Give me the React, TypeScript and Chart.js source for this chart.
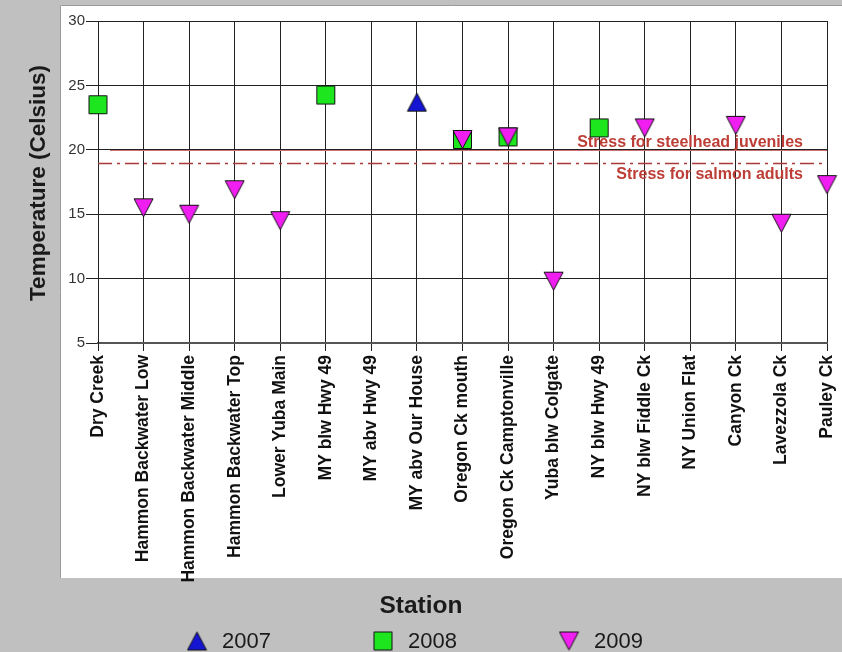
import React, { useEffect, useRef } from "react";
import { Chart, registerables } from "chart.js";

Chart.register(...registerables);

// ---- data ----
const stations = [
  "Dry Creek",
  "Hammon Backwater Low",
  "Hammon Backwater Middle",
  "Hammon Backwater Top",
  "Lower Yuba Main",
  "MY blw Hwy 49",
  "MY abv Hwy 49",
  "MY abv Our House",
  "Oregon Ck mouth",
  "Oregon Ck Camptonville",
  "Yuba blw Colgate",
  "NY blw Hwy 49",
  "NY blw Fiddle Ck",
  "NY Union Flat",
  "Canyon Ck",
  "Lavezzola Ck",
  "Pauley Ck",
];
const temps2007 = [null, null, null, null, null, null, null, 23.7, null, null, null, null, null, null, null, null, null];
const temps2008 = [23.5, null, null, null, null, 24.25, null, null, 20.8, 21.0, null, 21.7, null, null, null, null, null];
const temps2009 = [null, 15.5, 15.0, 16.9, 14.5, null, null, null, 20.8, 21.0, 9.8, null, 21.7, null, 21.9, 14.3, 17.3];
const seriesNames = ["2007", "2008", "2009"];
const yMin = 5;
const yMax = 30;
const yStep = 5;
const thresholdValues = [20, 19];
const thresholdLabels = ["Stress for steelhead juveniles", "Stress for salmon adults"];
const xTitle = "Station";
const yTitle = "Temperature (Celsius)";

const FONT = '"Liberation Sans", Arial, Helvetica, sans-serif';
const COLORS = ["#1414d2", "#1ee61e", "#f01ef0"];

function makeMarker(kind: string, fill: string) {
  const c = document.createElement("canvas");
  c.width = 21;
  c.height = 21;
  const ctx = c.getContext("2d")!;
  ctx.fillStyle = fill;
  ctx.strokeStyle = "#111";
  ctx.lineWidth = 1;
  ctx.beginPath();
  if (kind === "square") {
    ctx.rect(1.5, 1.5, 18, 18);
  } else if (kind === "up") {
    ctx.moveTo(10.5, 1.5);
    ctx.lineTo(20, 19.5);
    ctx.lineTo(1, 19.5);
    ctx.closePath();
  } else {
    ctx.moveTo(1, 1.5);
    ctx.lineTo(20, 1.5);
    ctx.lineTo(10.5, 19.5);
    ctx.closePath();
  }
  ctx.fill();
  ctx.stroke();
  return c;
}

export default function App() {
  const ref = useRef<HTMLCanvasElement | null>(null);

  useEffect(() => {
    if (!ref.current) return;
    const markers = [
      makeMarker("up", COLORS[0]),
      makeMarker("square", COLORS[1]),
      makeMarker("down", COLORS[2]),
    ];

    const decor = {
      id: "decor",
      beforeDraw(chart: any) {
        const ctx = chart.ctx;
        ctx.save();
        ctx.fillStyle = "#c0c0c0";
        ctx.fillRect(0, 0, chart.width, chart.height);
        ctx.fillStyle = "#ffffff";
        ctx.fillRect(60, 5, chart.width - 60, 573);
        ctx.strokeStyle = "#9a9a9a";
        ctx.lineWidth = 1;
        ctx.beginPath();
        ctx.moveTo(60.5, 578);
        ctx.lineTo(60.5, 5.5);
        ctx.lineTo(chart.width, 5.5);
        ctx.stroke();
        ctx.restore();
      },
      beforeDatasetsDraw(chart: any) {
        const ctx = chart.ctx;
        const area = chart.chartArea;
        const y = chart.scales.y;
        ctx.save();
        // steelhead line (solid)
        const y0 = Math.round(y.getPixelForValue(thresholdValues[0])) + 0.5;
        ctx.strokeStyle = "#cf7070";
        ctx.lineWidth = 1;
        ctx.beginPath();
        ctx.moveTo(area.left + 12, y0);
        ctx.lineTo(area.right, y0);
        ctx.stroke();
        // salmon line (dash-dot)
        const y1 = Math.round(y.getPixelForValue(thresholdValues[1])) + 0.5;
        ctx.strokeStyle = "#a83a3a";
        ctx.lineWidth = 1.3;
        ctx.setLineDash([14, 5, 3, 5]);
        ctx.beginPath();
        ctx.moveTo(area.left, y1);
        ctx.lineTo(area.right, y1);
        ctx.stroke();
        ctx.setLineDash([]);
        // labels
        ctx.fillStyle = "#bc3e36";
        ctx.font = `bold 16px ${FONT}`;
        ctx.textAlign = "right";
        ctx.textBaseline = "alphabetic";
        ctx.fillText(thresholdLabels[0], 803, y0 - 4);
        ctx.fillText(thresholdLabels[1], 803, y1 + 15.5);
        ctx.restore();
      },
      afterDraw(chart: any) {
        const ctx = chart.ctx;
        ctx.save();
        ctx.fillStyle = "#1a1a1a";
        // y title
        ctx.font = `bold 22.5px ${FONT}`;
        ctx.textAlign = "center";
        ctx.textBaseline = "alphabetic";
        ctx.translate(45, 183);
        ctx.rotate(-Math.PI / 2);
        ctx.fillText(yTitle, 0, 0);
        ctx.setTransform(1, 0, 0, 1, 0, 0);
        // x title
        ctx.font = `bold 24.5px ${FONT}`;
        ctx.fillText(xTitle, 421, 613);
        // legend
        const lx = [197, 383, 569];
        ctx.font = `22px ${FONT}`;
        ctx.textAlign = "left";
        for (let i = 0; i < seriesNames.length; i++) {
          const m = markers[i];
          ctx.drawImage(m, lx[i] - 10.5, 641 - 10.5);
          ctx.fillText(seriesNames[i], lx[i] + 25, 648);
        }
        ctx.restore();
      },
    };

    const common = {
      showLine: false,
      pointRadius: 10,
      pointHoverRadius: 10,
      clip: false as any,
    };

    const chart = new Chart(ref.current, {
      type: "line",
      data: {
        labels: stations,
        datasets: [
          { ...common, label: seriesNames[0], data: temps2007, pointStyle: markers[0] as any, order: 1 },
          { ...common, label: seriesNames[1], data: temps2008, pointStyle: markers[1] as any, order: 3 },
          { ...common, label: seriesNames[2], data: temps2009, pointStyle: markers[2] as any, order: 2 },
        ],
      },
      options: {
        responsive: false,
        animation: false,
        devicePixelRatio: 1,
        events: [],
        layout: { padding: { left: 0, top: 21, right: 15, bottom: 0 } },
        plugins: {
          legend: { display: false },
          tooltip: { enabled: false },
        },
        scales: {
          x: {
            type: "category",
            offset: false,
            grid: { color: "#222", lineWidth: 1, tickLength: 8, drawTicks: true },
            border: { color: "#555", width: 2 },
            ticks: {
              autoSkip: false,
              minRotation: 90,
              maxRotation: 90,
              padding: 4,
              color: "#111",
              font: { family: FONT, size: 17.5, weight: "bold" },
            },
            afterFit(scale: any) {
              scale.height = 309;
              scale.paddingLeft = 0;
              scale.paddingRight = 0;
            },
          },
          y: {
            min: yMin,
            max: yMax,
            grid: { color: "#222", lineWidth: 1, tickLength: 12, drawTicks: true },
            border: { color: "#222", width: 1 },
            ticks: {
              stepSize: yStep,
              padding: 1,
              color: "#333",
              font: { family: FONT, size: 15 },
            },
            afterFit(scale: any) {
              scale.width = 98;
              scale.paddingTop = 0;
              scale.paddingBottom = 0;
            },
          },
        },
      },
      plugins: [decor],
    });

    return () => chart.destroy();
  }, []);

  return (
    <div style={{ position: "absolute", left: 0, top: 0, width: 842, height: 652 }}>
      <canvas ref={ref} width={842} height={652} style={{ display: "block" }} />
    </div>
  );
}
